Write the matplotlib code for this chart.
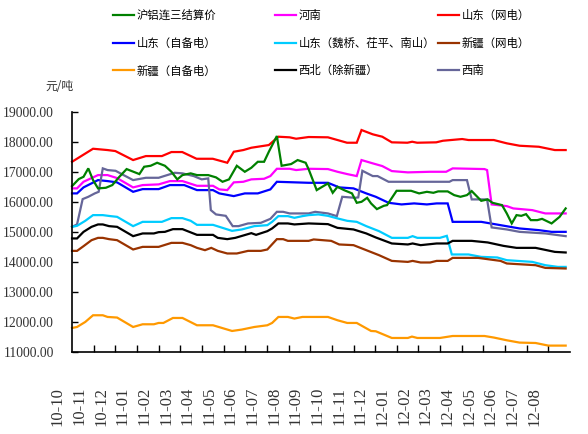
import numpy as np
import matplotlib.pyplot as plt
from matplotlib.lines import Line2D
from matplotlib.ticker import FuncFormatter, FixedLocator

# ---------------- data (x in months since 2010-11, price in 元/吨) ----------------
months = ['10-10', '10-11', '10-12', '11-01', '11-02', '11-03', '11-04', '11-05',
          '11-06', '11-07', '11-08', '11-09', '11-10', '11-11', '11-12', '12-01',
          '12-02', '12-03', '12-04', '12-05', '12-06', '12-07', '12-08']

sd_grid_x = [0, 0.97, 1.64, 2.0, 2.82, 3.41, 4.15, 4.59, 5.09, 5.75, 6.5, 7.17, 7.47, 7.91,
             8.28, 9.09, 9.53, 10.05, 10.35, 10.93, 11.82, 12.7, 13.15, 13.37, 13.89, 14.33,
             14.77, 15.49, 15.71, 15.94, 16.82, 17.13, 18.02, 18.31, 19.48, 20.08, 20.67,
             21.56, 22.3, 22.8]
sd_grid = [17333, 17767, 17723, 17690, 17390, 17523, 17523, 17657, 17657, 17433, 17433,
           17300, 17667, 17723, 17800, 17890, 18167, 18147, 18100, 18157, 18147, 17967,
           17967, 18390, 18247, 18167, 17980, 17967, 18000, 17967, 17980, 18033, 18090,
           18057, 18057, 17947, 17867, 17833, 17723, 17723]

henan_x = [0, 0.23, 0.53, 1.2, 1.64, 2.08, 2.82, 3.26, 4.0, 4.52, 5.1, 5.77, 6.51, 6.8, 7.17,
           7.47, 7.91, 8.28, 8.87, 9.16, 9.46, 10.05, 10.35, 10.93, 11.82, 12.26, 12.71,
           13.15, 13.37, 13.89, 14.33, 14.77, 15.51, 16.54, 17.28, 17.58, 19.05, 19.17,
           19.38, 20.08, 20.38, 21.26, 21.86, 22.8]
henan = [16447, 16447, 16667, 16890, 16890, 16790, 16480, 16557, 16580, 16690, 16690, 16533,
         16533, 16413, 16390, 16647, 16667, 16747, 16767, 16857, 17100, 17100, 17057, 17100,
         17090, 17000, 16923, 16857, 17390, 17280, 17190, 17023, 16980, 17000, 17000, 17113,
         17090, 17057, 15913, 15857, 15780, 15723, 15613, 15613]

sd_self_x = [0, 0.23, 0.53, 1.2, 1.64, 2.08, 2.82, 3.26, 4.0, 4.52, 5.18, 5.77, 6.51, 6.8,
             7.47, 7.98, 8.58, 9.16, 9.46, 10.93, 11.82, 12.34, 13.0, 13.59, 14.03, 14.62,
             15.22, 15.8, 16.39, 16.84, 17.35, 17.58, 18.9, 19.79, 20.67, 21.56, 22.15, 22.8]
sd_self = [16280, 16280, 16480, 16723, 16690, 16647, 16333, 16423, 16423, 16557, 16557,
           16390, 16390, 16280, 16190, 16280, 16280, 16413, 16667, 16633, 16633, 16480,
           16447, 16280, 16167, 15967, 15913, 15947, 15913, 15947, 15947, 15333, 15333,
           15223, 15113, 15057, 15000, 15000]

shfe_x = [0, 0.31, 0.53, 0.75, 0.97, 1.2, 1.56, 1.86, 2.16, 2.52, 3.11, 3.33, 3.63, 3.93,
          4.29, 4.59, 4.86, 5.1, 5.48, 5.77, 6.29, 6.65, 6.95, 7.25, 7.61, 7.98, 8.28, 8.58,
          8.87, 9.09, 9.46, 9.68, 10.12, 10.42, 10.79, 10.93, 11.3, 11.82, 12.04, 12.26,
          12.56, 12.93, 13.15, 13.37, 13.63, 13.81, 14.08, 14.4, 14.55, 14.99, 15.66, 16.03,
          16.39, 16.69, 16.91, 17.35, 17.65, 17.94, 18.24, 18.46, 18.9, 19.2, 19.42, 19.86,
          20.08, 20.31, 20.53, 20.75, 20.97, 21.19, 21.49, 21.71, 22.15, 22.52, 22.8]
shfe = [16523, 16757, 16833, 17113, 16723, 16447, 16467, 16557, 16813, 17090, 16923, 17167,
        17200, 17300, 17200, 17000, 16747, 16890, 16947, 16890, 16890, 16813, 16667, 16747,
        17200, 17000, 17133, 17333, 17333, 17667, 18190, 17200, 17257, 17390, 17300, 17080,
        16390, 16613, 16300, 16500, 16390, 16280, 15967, 16000, 16133, 15947, 15757, 15867,
        15890, 16367, 16367, 16280, 16333, 16300, 16347, 16347, 16223, 16167, 16223, 16357,
        16033, 16080, 15967, 15890, 15613, 15280, 15557, 15533, 15590, 15390, 15390, 15433,
        15280, 15500, 15780]

sw_x = [0, 0.23, 0.49, 0.75, 1.05, 1.23, 1.42, 1.64, 2.01, 2.38, 2.82, 3.41, 4.0, 4.74, 5.1,
        5.62, 5.99, 6.29, 6.41, 6.65, 7.1, 7.42, 7.69, 8.13, 8.72, 9.16, 9.46, 9.75, 10.05,
        10.93, 11.23, 11.82, 12.23, 12.48, 13.07, 13.22, 13.41, 13.89, 14.11, 14.62, 17.43,
        17.58, 18.24, 18.46, 19.17, 19.38, 20.08, 20.67, 21.86, 22.8]
sw = [15167, 15247, 16090, 16167, 16280, 16333, 17113, 17057, 17033, 16890, 16723, 16800,
      16800, 16967, 16947, 16857, 16747, 16780, 15723, 15580, 15533, 15190, 15190, 15280,
      15300, 15433, 15667, 15667, 15613, 15613, 15667, 15613, 15523, 16167, 16133, 16147,
      17033, 16857, 16857, 16667, 16667, 16723, 16723, 16080, 16080, 15147, 15080, 15000,
      14947, 14857]

wq_x = [0, 0.23, 0.61, 0.97, 1.42, 1.78, 2.08, 2.82, 3.26, 4.15, 4.59, 5.1, 5.48, 5.77,
        6.51, 7.39, 7.84, 8.42, 9.02, 9.24, 9.53, 9.97, 10.27, 10.64, 10.93, 11.38, 11.82,
        12.26, 12.71, 13.15, 13.59, 14.18, 14.77, 15.51, 15.73, 15.95, 16.99, 17.31, 17.54,
        18.31, 18.9, 19.64, 20.08, 21.26, 21.86, 22.44, 22.8]
wq = [15167, 15200, 15367, 15557, 15557, 15523, 15500, 15190, 15333, 15333, 15457, 15457,
      15367, 15233, 15233, 15033, 15080, 15190, 15223, 15333, 15523, 15523, 15467, 15523,
      15557, 15580, 15533, 15447, 15367, 15333, 15190, 15023, 14800, 14800, 14857, 14800,
      14800, 14867, 14247, 14247, 14167, 14147, 14057, 14000, 13890, 13833, 13833]

nw_x = [0, 0.23, 0.53, 0.9, 1.2, 1.42, 1.71, 2.08, 2.82, 3.26, 3.78, 4.0, 4.29, 4.66, 5.1,
        5.77, 6.51, 6.73, 7.17, 7.54, 8.28, 8.5, 9.02, 9.24, 9.53, 9.97, 10.27, 10.93, 11.82,
        12.26, 13.0, 13.59, 14.03, 14.77, 15.51, 15.73, 16.1, 16.84, 17.35, 17.58, 18.46,
        19.2, 19.93, 20.53, 21.41, 22.3, 22.8]
nw = [14780, 14780, 15000, 15167, 15247, 15247, 15190, 15167, 14857, 14947, 14947, 14990,
      15000, 15090, 15090, 14900, 14900, 14800, 14757, 14800, 14957, 14900, 15023, 15113,
      15280, 15280, 15247, 15280, 15257, 15133, 15080, 14947, 14813, 14613, 14580, 14613,
      14557, 14613, 14613, 14700, 14700, 14647, 14533, 14467, 14467, 14333, 14313]

xj_grid_x = [0, 0.23, 0.53, 0.9, 1.2, 1.42, 1.71, 2.08, 2.82, 3.26, 4.0, 4.59, 5.1, 5.48,
             5.77, 6.14, 6.43, 6.73, 7.17, 7.61, 8.13, 8.72, 9.02, 9.46, 9.75, 9.97, 10.93,
             11.16, 11.97, 12.34, 13.0, 13.59, 14.18, 14.77, 15.51, 15.73, 16.1, 16.54,
             16.84, 17.35, 17.58, 18.76, 19.2, 19.79, 20.08, 21.41, 21.86, 22.8]
xj_grid = [14367, 14367, 14523, 14723, 14800, 14800, 14757, 14723, 14413, 14500, 14500,
           14633, 14633, 14557, 14467, 14390, 14467, 14367, 14280, 14280, 14367, 14367,
           14413, 14757, 14757, 14700, 14700, 14747, 14700, 14580, 14557, 14390, 14223,
           14033, 14000, 14033, 13980, 13980, 14033, 14033, 14133, 14133, 14090, 14033,
           13947, 13890, 13800, 13780]

xj_self_x = [0, 0.23, 0.61, 0.97, 1.42, 1.64, 2.08, 2.82, 3.26, 3.78, 4.0, 4.22, 4.66, 5.1,
             5.77, 6.51, 7.39, 7.84, 8.42, 9.02, 9.24, 9.53, 9.97, 10.27, 10.64, 11.82,
             12.26, 12.71, 13.15, 13.81, 14.03, 14.77, 15.51, 15.7, 15.95, 16.99, 17.58,
             19.05, 19.49, 20.08, 20.67, 21.41, 22.0, 22.8]
xj_self = [11800, 11833, 12000, 12223, 12223, 12167, 12147, 11833, 11923, 11923, 11967,
           11967, 12133, 12133, 11890, 11890, 11700, 11747, 11833, 11890, 11967, 12167,
           12167, 12113, 12167, 12167, 12057, 11967, 11967, 11700, 11690, 11467, 11467,
           11513, 11467, 11467, 11533, 11533, 11480, 11390, 11313, 11300, 11213, 11213]

series = [
    ("沪铝连三结算价", shfe_x, shfe, "#008000"),
    ("河南", henan_x, henan, "#ff00ff"),
    ("山东（网电）", sd_grid_x, sd_grid, "#ff0000"),
    ("山东（自备电）", sd_self_x, sd_self, "#0000ff"),
    ("山东（魏桥、茌平、南山）", wq_x, wq, "#00ccff"),
    ("新疆（网电）", xj_grid_x, xj_grid, "#993300"),
    ("新疆（自备电）", xj_self_x, xj_self, "#ff9900"),
    ("西北（除新疆）", nw_x, nw, "#000000"),
    ("西南", sw_x, sw, "#666699"),
]

cjk = ['Noto Sans CJK SC', 'DejaVu Sans']
num_font = 'Liberation Serif'

# ---------------- plot ----------------
fig = plt.figure(figsize=(5.88, 4.34), dpi=100)
ax = fig.add_axes([50.4 / 588, 82 / 434, 519.6 / 588, 240.3 / 434])

draw_order = [2, 1, 3, 8, 0, 4, 7, 5, 6]
for i in draw_order:
    name, xs, ys, c = series[i]
    ax.plot(xs, ys, color=c, lw=1.6, solid_joinstyle='miter')

ax.set_xlim(-1, 23)
ax.set_ylim(11000, 19000)

for s in ['top', 'right']:
    ax.spines[s].set_visible(False)
ax.spines['left'].set_position(('data', 0))
ax.spines['bottom'].set_bounds(0, 23)
ax.spines['left'].set_linewidth(1.2)
ax.spines['bottom'].set_linewidth(1.2)

ax.set_yticks(np.arange(11000, 19001, 1000))
ax.yaxis.set_major_formatter(FuncFormatter(lambda v, _: f'{v:.2f}'))
ax.tick_params(axis='y', direction='in', length=4, width=1, pad=13)
for lab in ax.get_yticklabels():
    lab.set_fontfamily(num_font)
    lab.set_fontsize(9.8)
    lab.set_color('#333333')

label_pos = [k - 0.66 for k in range(len(months))]
ax.set_xticks(label_pos)
ax.set_xticklabels(months, rotation=90, fontfamily=num_font, fontsize=12, color='#333333')
ax.tick_params(axis='x', which='major', length=0, pad=25)
ax.xaxis.set_minor_locator(FixedLocator(range(1, 23)))
ax.tick_params(axis='x', which='minor', direction='in', length=5, width=1)

fig.text(45 / 588, 1 - 87 / 434, "元/吨", fontfamily=cjk, fontsize=8.5,
         color='#333333', va='center', ha='left')

# legend: three columns laid out row by row
cols = [[0, 3, 6], [1, 4, 7], [2, 5, 8]]
col_x = [113, 275, 438]
for col, x0 in zip(cols, col_x):
    hs = [Line2D([], [], color=series[i][3], lw=1.6) for i in col]
    ls = [series[i][0] for i in col]
    fig.legend(hs, ls, loc='upper left', bbox_to_anchor=(x0 / 588, 1 - 10 / 434),
               frameon=False, borderpad=0, borderaxespad=0, handlelength=1.85,
               handletextpad=0.2, labelspacing=1.45,
               prop={'family': cjk, 'size': 8.2})

fig.savefig('out.png', dpi=100)
